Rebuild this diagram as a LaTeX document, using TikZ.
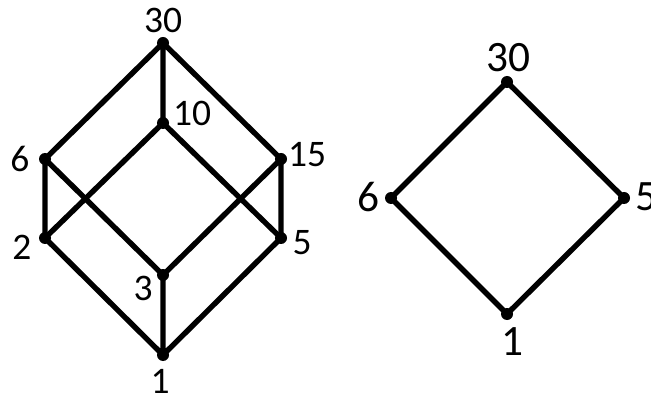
\documentclass[tikz,border=0pt]{standalone}
\usepackage{fontspec}
\setmainfont{Carlito}
\usetikzlibrary{positioning}

\begin{document}
\begin{tikzpicture}[x=0.03cm,y=-0.03cm,
   pt/.style={circle,fill=black,minimum size=12*0.03cm,inner sep=0pt},
   lbl/.style={inner sep=0pt,font=\fontsize{32}{32}\selectfont},
   lblb/.style={inner sep=0pt,font=\fontsize{37}{37}\selectfont},
   edge/.style={line width=4.6pt}]
\useasboundingbox (0,0) rectangle (651,402);
%% ---- divisor lattice of 30 ----
\node[pt] (a30) at (163,43) {};
\node[pt] (a10) at (163,123) {};
\node[pt] (a6) at (45,159) {};
\node[pt] (a15) at (281,159) {};
\node[pt] (a2) at (45,238) {};
\node[pt] (a5) at (281,238) {};
\node[pt] (a3) at (163,275) {};
\node[pt] (a1) at (163,355) {};
\draw[edge] (a30.center)--(a6.center) (a30.center)--(a10.center) (a30.center)--(a15.center);
\draw[edge] (a6.center)--(a2.center) (a6.center)--(a3.center);
\draw[edge] (a10.center)--(a2.center) (a10.center)--(a5.center);
\draw[edge] (a15.center)--(a3.center) (a15.center)--(a5.center);
\draw[edge] (a2.center)--(a1.center) (a3.center)--(a1.center) (a5.center)--(a1.center);
\node[lbl] (t30) at (163,20) {30};
\node[lbl] (t10) at (192,113) {10};
\node[lbl] (t6) at (20,159) {6};
\node[lbl] (t15) at (307,155) {15};
\node[lbl] (t2) at (22,247) {2};
\node[lbl] (t5) at (302,243) {5};
\node[lbl] (t3) at (143,288) {3};
\node[lbl] (t1) at (160,381) {1};

%% ---- sublattice ----
\node[pt] (b30) at (507,82) {};
\node[pt] (b6) at (391,198) {};
\node[pt] (b5) at (624,198) {};
\node[pt] (b1) at (507,314) {};
\draw[edge] (b30.center)--(b6.center)--(b1.center)--(b5.center)--(b30.center);
\node[lblb] (u30) at (508,58) {30};
\node[lblb] (u6) at (368,197) {6};
\node[lblb] (u5) at (646,197) {5};
\node[lblb] (u1) at (512,342) {1};
\end{tikzpicture}
\end{document}
